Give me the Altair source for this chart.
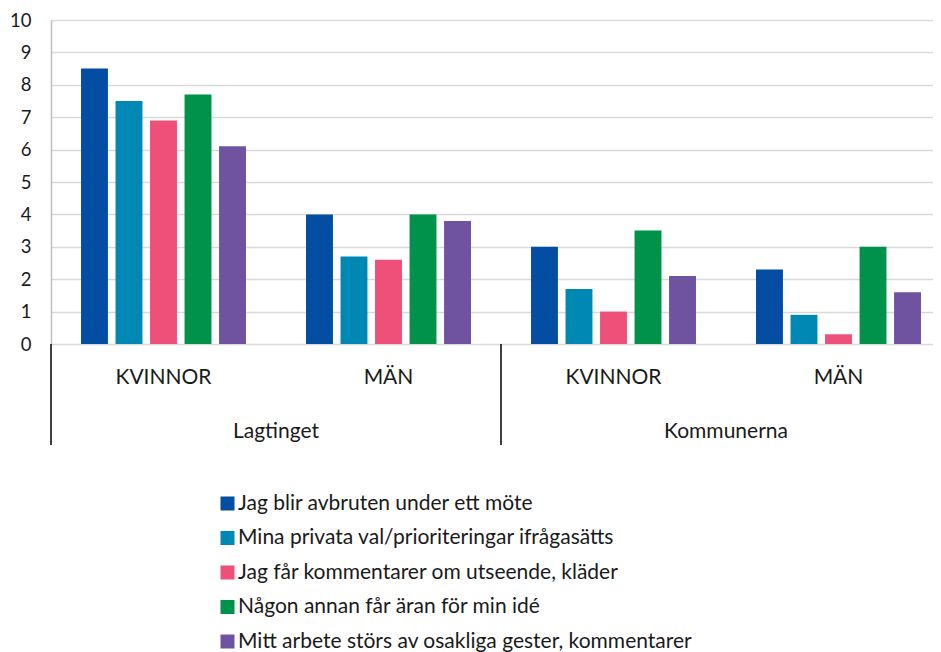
import altair as alt
import pandas as pd

# ---- data ----
groups = ["Lagtinget", "Lagtinget", "Kommunerna", "Kommunerna"]
genders = ["KVINNOR", "MÄN", "KVINNOR", "MÄN"]
series = [
    "Jag blir avbruten under ett möte",
    "Mina privata val/prioriteringar ifrågasätts",
    "Jag får kommentarer om utseende, kläder",
    "Någon annan får äran för min idé",
    "Mitt arbete störs av osakliga gester, kommentarer",
]
avbruten = [8.5, 4.0, 3.0, 2.3]
privata = [7.5, 2.7, 1.7, 0.9]
utseende = [6.9, 2.6, 1.0, 0.3]
idee = [7.7, 4.0, 3.5, 3.0]
gester = [6.1, 3.8, 2.1, 1.6]
colors = ["#034ea2", "#0088b5", "#ef5079", "#00924b", "#6f52a0"]
y_ticks = list(range(0, 11))

FONT = "Lato"
FS = 21

keys = [f"{g}|{s}" for g, s in zip(groups, genders)]
rows = []
for name, vals in zip(series, [avbruten, privata, utseende, idee, gester]):
    for k, g, s, v in zip(keys, groups, genders, vals):
        rows.append(dict(key=k, grupp=g, kon=s, serie=name, varde=v))
df = pd.DataFrame(rows)

sub_df = pd.DataFrame({"key": keys, "label": genders})
group_names = ["Lagtinget", "Kommunerna"]
grp_df = pd.DataFrame({"key": [keys[1], keys[3]], "label": group_names})
div_df = pd.DataFrame({"key": [keys[0], keys[2]]})

# the category axis runs past the right edge of the page, as in the reference
xscale = alt.Scale(domain=keys, paddingInner=0, paddingOuter=0, range=[0, 900])

bars = alt.Chart(df).mark_bar().encode(
    x=alt.X(
        "key:N",
        scale=xscale,
        axis=alt.Axis(labels=False, ticks=False, title=None, grid=False,
                      domainColor="#000000", domainWidth=1.6),
    ),
    xOffset=alt.XOffset("serie:N", sort=series,
                        scale=alt.Scale(paddingInner=0.22, paddingOuter=0.87)),
    y=alt.Y(
        "varde:Q",
        scale=alt.Scale(domain=[0, 10]),
        axis=alt.Axis(values=y_ticks, title=None, ticks=False, labelPadding=20,
                      labelFont=FONT, labelFontSize=18.5, labelColor="#1a1a1a",
                      gridColor="#d9d9d9", gridWidth=1.3,
                      domainColor="#bfbfbf", domainWidth=1.5),
    ),
    color=alt.Color(
        "serie:N", sort=series,
        scale=alt.Scale(domain=series, range=colors),
        legend=alt.Legend(orient="none", legendX=166, legendY=473,
                          direction="vertical", title=None,
                          symbolType="square", symbolSize=196,
                          symbolStrokeWidth=0, labelFont=FONT,
                          labelFontSize=FS, labelColor="#1a1a1a",
                          rowPadding=12.5, labelOffset=0, labelLimit=0),
    ),
)

sub_text = alt.Chart(sub_df).mark_text(
    font=FONT, fontSize=FS, color="#1a1a1a", baseline="middle"
).encode(
    x=alt.X("key:N", scale=xscale, axis=None),
    y=alt.value(358),
    text="label:N",
)

grp_text = alt.Chart(grp_df).mark_text(
    font=FONT, fontSize=FS, color="#1a1a1a", baseline="middle"
).encode(
    x=alt.X("key:N", scale=xscale, axis=None, bandPosition=0),
    y=alt.value(412),
    text="label:N",
)

dividers = alt.Chart(div_df).mark_rule(color="#000000", strokeWidth=1.5).encode(
    x=alt.X("key:N", scale=xscale, axis=None, bandPosition=0),
    y=alt.value(324),
    y2=alt.value(425),
)

chart = alt.layer(bars, dividers, sub_text, grp_text).properties(
    width=882, height=324,
    autosize=alt.AutoSizeParams(type="none"),
    padding={"left": 43, "top": 12, "right": 0, "bottom": 317},
).configure_view(stroke=None, clip=False)

chart.save("out.html", embed_options={"renderer": "svg", "actions": False})
